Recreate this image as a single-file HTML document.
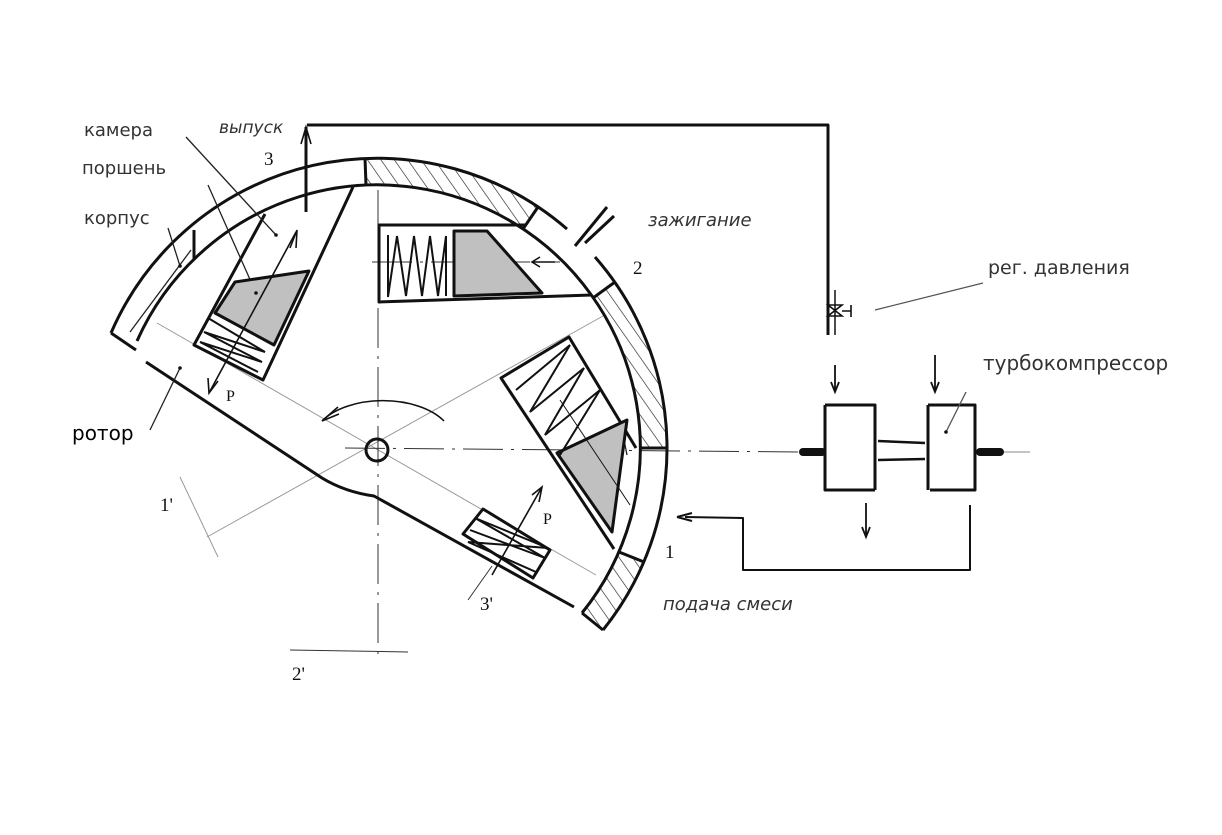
<!DOCTYPE html>
<html><head><meta charset="utf-8"><style>
html,body{margin:0;padding:0;background:#fff;}
svg{display:block;}
.s{font-family:"DejaVu Sans","Liberation Sans",sans-serif;}
.i{font-family:"DejaVu Sans","Liberation Sans",sans-serif;font-style:italic;}
.r{font-family:"Liberation Serif",serif;}
</style></head><body>
<svg width="1222" height="835" viewBox="0 0 1222 835" xmlns="http://www.w3.org/2000/svg">
<defs>
<pattern id="h" patternUnits="userSpaceOnUse" width="11" height="11" patternTransform="rotate(-35)">
<line x1="0" y1="0" x2="0" y2="11" stroke="#222" stroke-width="1.3"/>
</pattern>
</defs>
<rect width="1222" height="835" fill="#fff"/>

<g stroke="#999" stroke-width="1" fill="none">
<line x1="157" y1="323" x2="596" y2="575"/>
<line x1="603" y1="316" x2="207" y2="537"/>
<line x1="180" y1="477" x2="218" y2="557"/>
<line x1="290" y1="650" x2="408" y2="652" stroke="#333"/>
<line x1="468" y1="600" x2="492" y2="566" stroke="#333"/>
</g>
<g stroke="#333" stroke-width="1" fill="none" stroke-dasharray="40,8,3,8">
<line x1="378" y1="190" x2="378" y2="660"/>
<line x1="345" y1="448" x2="800" y2="452"/>
<line x1="372" y1="262" x2="560" y2="262"/>
</g>
<line x1="1003" y1="452" x2="1030" y2="452" stroke="#888" stroke-width="1"/>

<path d="M365,158 A290,290 0 0 1 538,207 L523,229 A263,263 0 0 0 366,185 Z" fill="url(#h)"/>
<path d="M615,282 A290,290 0 0 1 667,448 L640,448 A263,263 0 0 0 593,298 Z" fill="url(#h)"/>
<path d="M644,562 A290,290 0 0 1 603,630 L582,613 A263,263 0 0 0 619,552 Z" fill="url(#h)"/>

<g stroke="#111" stroke-width="3" fill="none" stroke-linejoin="round">
<path d="M111,333 A290,290 0 0 1 567,229"/>
<path d="M595,257 A290,290 0 0 1 603,630"/>
<path d="M137,341 A263,263 0 1 1 582,613"/>
<path d="M111,333 L136,350"/>
<path d="M582,613 L603,630"/>
<line x1="365" y1="158" x2="366" y2="185"/>
<line x1="538" y1="207" x2="523" y2="229"/>
<line x1="593" y1="298" x2="615" y2="282"/>
<line x1="640" y1="448" x2="667" y2="448"/>
<line x1="619" y1="552" x2="644" y2="562"/>
<line x1="194" y1="230" x2="194" y2="259"/>
<line x1="575" y1="246" x2="607" y2="207"/>
<line x1="585" y1="243" x2="614" y2="216"/>
<path d="M146,362 L322,478 Q345,492 374,496 L574,607"/>
<circle cx="377" cy="450" r="11"/>
<path d="M265,214 L194,345 L263,380 L353,187"/>
<path d="M525,225 L379,225 L379,302 L592,295"/>
<path d="M614,549 L501,378 L569,337 L636,448"/>
<path d="M463,534 L483,509 L550,550 L533,578 Z"/>
<path d="M306,212 L306,127"/>
<path d="M307,125 L828,125 L828,335"/>
<line x1="835" y1="290" x2="835" y2="335" stroke-width="1.5"/>
<path d="M970,505 L970,570 L743,570 L743,518 L685,517" stroke-width="2"/>
<path d="M825,405 L875,405 L875,490 M825,405 L825,490 L875,490" stroke-width="3"/>
<path d="M928,405 L975,405 L975,490 L930,490 M928,405 L928,490" stroke-width="3"/>
<line x1="878" y1="441" x2="925" y2="443" stroke-width="2.5"/>
<line x1="878" y1="460" x2="925" y2="459" stroke-width="2.5"/>
</g>
<line x1="803" y1="452" x2="822" y2="452" stroke="#111" stroke-width="8" stroke-linecap="round"/>
<line x1="980" y1="452" x2="1000" y2="452" stroke="#111" stroke-width="8" stroke-linecap="round"/>

<g stroke="#222" stroke-width="1.3" fill="none">
<line x1="130" y1="332" x2="191" y2="250"/>
<line x1="168" y1="228" x2="180" y2="266"/>
<line x1="150" y1="430" x2="180" y2="368"/>
<line x1="186" y1="137" x2="276" y2="235"/>
<line x1="208" y1="185" x2="256" y2="293"/>
<line x1="875" y1="310" x2="983" y2="283" stroke="#555"/>
<line x1="946" y1="432" x2="966" y2="392" stroke="#555"/>
<line x1="622" y1="430" x2="627" y2="455"/>
</g>

<g fill="#c0c0c0" stroke="#111" stroke-width="3" stroke-linejoin="round">
<path d="M235,282 L309,271 L274,345 L215,313 Z"/>
<path d="M454,231 L487,231 L542,293 L454,296 Z"/>
<path d="M557,453 L627,420 L612,532 Z"/>
</g>
<g stroke="#111" stroke-width="2" fill="none">
<path d="M388,235 L388,297 L397,236 L406,296 L414,236 L422,296 L430,236 L438,296 L446,236 L446,296"/>
<path d="M208,318 L265,352 L204,332 L262,362 L200,342 L258,372"/>
<path d="M516,390 L570,345 L530,412 L584,368 L545,435 L600,390 L560,455"/>
<path d="M470,530 L545,558 L475,518 L548,548 L468,542 L536,572"/>
<line x1="560" y1="400" x2="630" y2="505" stroke-width="1"/>
</g>

<g stroke="#111" stroke-width="1.6" fill="none">
<line x1="296" y1="232" x2="209" y2="393"/>
<path d="M290,248 L297,230 L296,248"/>
<path d="M208,378 L209,393 L218,381"/>
<line x1="492" y1="575" x2="542" y2="487"/>
<path d="M532,495 L542,487 L539,502"/>
<path d="M444,421 A70,40 0 0 0 322,421"/>
<path d="M322,421 L338,407 M322,421 L339,414"/>
<path d="M555,262 L532,262 M540,257 L532,262 L540,267"/>
<path d="M301,144 L306,127 L311,144"/>
<path d="M835,365 L835,392 M831,382 L835,392 L839,382" stroke-width="1.8"/>
<path d="M935,355 L935,392 M931,382 L935,392 L939,382" stroke-width="1.8"/>
<path d="M866,503 L866,537 M862,527 L866,537 L870,527" stroke-width="1.8"/>
<path d="M677,517 L692,513 M677,517 L692,521" stroke-width="2"/>
<path d="M828,305 L842,316 L828,316 L842,305 Z" stroke-width="1.6"/>
<path d="M842,311 L851,311 M851,305 L851,317" stroke-width="1.6"/>
</g>
<g fill="#111">
<circle cx="276" cy="235" r="1.8"/><circle cx="256" cy="293" r="1.8"/>
<circle cx="180" cy="266" r="1.8"/><circle cx="180" cy="368" r="1.8"/>
<circle cx="946" cy="432" r="1.8"/>
</g>

<g class="s" font-size="18" fill="#333">
<text x="84" y="136">камера</text>
<text x="82" y="174">поршень</text>
<text x="84" y="224">корпус</text>
<text x="72" y="440" font-size="20" fill="#000">ротор</text>
<text x="988" y="274" font-size="19">рег. давления</text>
<text x="983" y="370" font-size="20">турбокомпрессор</text>
</g>
<g class="i" font-size="18" fill="#333">
<text x="219" y="133" font-size="17">выпуск</text>
<text x="648" y="226">зажигание</text>
<text x="663" y="610">подача смеси</text>
</g>
<g class="r" font-size="19" fill="#111">
<text x="264" y="165">3</text>
<text x="633" y="274">2</text>
<text x="665" y="558">1</text>
<text x="160" y="511">1'</text>
<text x="292" y="680">2'</text>
<text x="480" y="610">3'</text>
<text x="226" y="401" font-size="16">P</text>
<text x="543" y="524" font-size="16">P</text>
</g>
</svg>
</body></html>
